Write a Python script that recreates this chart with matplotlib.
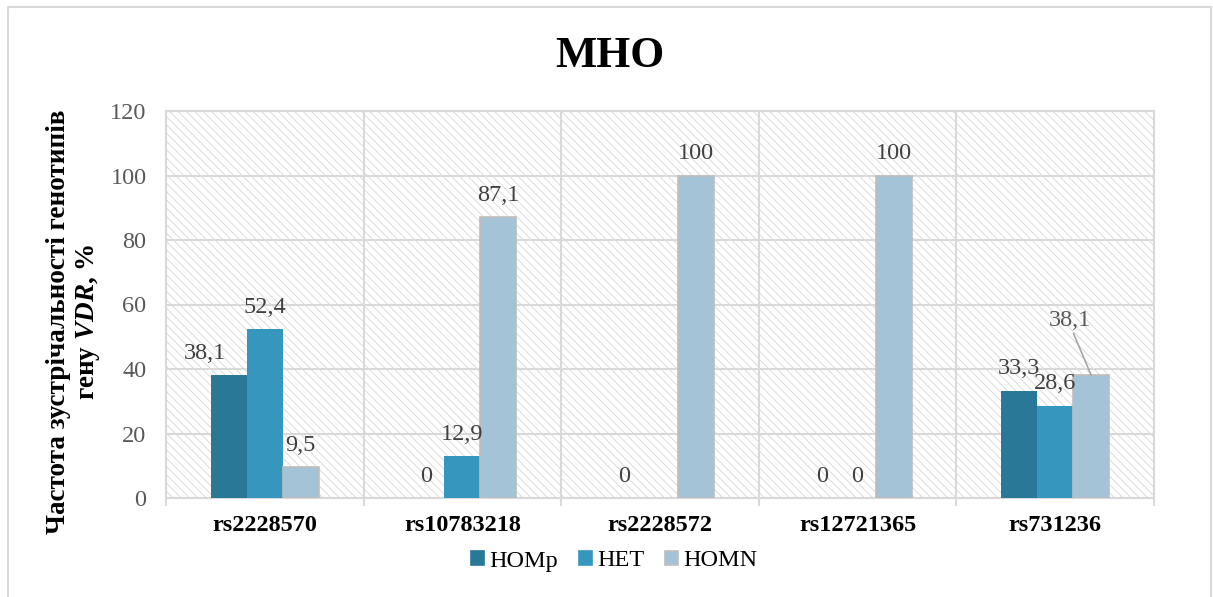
import matplotlib
matplotlib.use("Agg")
import matplotlib.pyplot as plt
from matplotlib.patches import Rectangle
import numpy as np

plt.rcParams["font.family"] = ["Liberation Serif", "DejaVu Serif"]
plt.rcParams["mathtext.fontset"] = "custom"
plt.rcParams["mathtext.it"] = "Liberation Serif:italic:bold"
plt.rcParams["mathtext.rm"] = "Liberation Serif:bold"
plt.rcParams["hatch.color"] = "#d6d6d6"
plt.rcParams["hatch.linewidth"] = 0.6

# Data
snps = ["rs2228570", "rs10783218", "rs2228572", "rs12721365", "rs731236"]
series_names = ["HOMp", "HET", "HOMN"]
homp = [38.1, 0, 0, 0, 33.3]
het = [52.4, 12.9, 0, 0, 28.6]
homn = [9.5, 87.1, 100, 100, 38.1]
y_ticks = [0, 20, 40, 60, 80, 100, 120]

colors = ["#297898", "#3796be", "#a5c3d7"]
edges = ["#297898", "#3796be", "#bdbdbd"]

FS = 17.5
W, H = 1213, 597
fig = plt.figure(figsize=(W / 100, H / 100), dpi=100)
fig.patch.set_facecolor("white")

# outer chart frame
fig.patches.append(Rectangle((8 / W, -0.01), 1203 / W, 1 - 7 / H + 0.01,
                             transform=fig.transFigure, fill=False,
                             edgecolor="#d9d9d9", linewidth=1.5))

ax = fig.add_axes([166 / W, 1 - 498 / H, (1154 - 166) / W, (498 - 111) / H])
ax.patch.set_facecolor("white")
ax.add_patch(Rectangle((0, 0), 1, 1, transform=ax.transAxes, facecolor="none",
                       hatch="\\\\\\\\", edgecolor="#d6d6d6", linewidth=0, zorder=0))

x = np.arange(len(snps))
bw = 0.182
series = [homp, het, homn]
offsets = [-bw, 0, bw]
label_gray = "#404040"
for vals, off, c, ec in zip(series, offsets, colors, edges):
    ax.bar(x + off, vals, width=bw, color=c, edgecolor=ec,
           linewidth=1.2 if ec != c else 0, zorder=3)

# value labels (rs2228572 HET has no label)
labels = {
    (0, 0): (-24, 22), (0, 1): (0, 22), (0, 2): (0, 22),
    (1, 0): (0, 22), (1, 1): (0, 22), (1, 2): (0, 22),
    (2, 0): (0, 22), (2, 2): (0, 22),
    (3, 0): (0, 22), (3, 1): (0, 22), (3, 2): (0, 22),
    (4, 0): (0, 22), (4, 1): (0, 22),
}
for (i, s), (dx, dy) in labels.items():
    v = series[s][i]
    txt = f"{v:g}".replace(".", ",")
    ax.annotate(txt, xy=(x[i] + offsets[s], v), xytext=(dx, dy),
                textcoords="offset pixels", ha="center", va="center",
                fontsize=FS, color=label_gray, zorder=5)

# label with leader line
v = homn[4]
ax.annotate(f"{v:g}".replace(".", ","), xy=(x[4] + offsets[2], v),
            xytext=(-21, 55), textcoords="offset pixels", ha="center",
            va="center", fontsize=FS, color="#595959", zorder=5,
            arrowprops=dict(arrowstyle="-", color="#a6a6a6", lw=1.2,
                            shrinkA=0, shrinkB=0, relpos=(0.55, 0.0)))

ax.set_xlim(-0.5, len(snps) - 0.5)
ax.set_ylim(0, 120)
ax.set_yticks(y_ticks)
ax.set_yticklabels([str(t) for t in y_ticks], fontsize=FS, color="#595959")
ax.set_xticks(x)
ax.set_xticklabels(snps, fontsize=FS, fontweight="bold")
ax.set_xticks(np.arange(-0.5, len(snps)), minor=True)
ax.tick_params(axis="x", which="major", length=0, pad=12)
ax.tick_params(axis="x", which="minor", length=6, color="#d9d9d9", width=1.5)
ax.tick_params(axis="y", length=0, pad=14)

ax.grid(axis="y", which="major", color="#d9d9d9", linewidth=1.5, zorder=1)
ax.grid(axis="x", which="minor", color="#d9d9d9", linewidth=1.5, zorder=1)
ax.set_axisbelow(True)
for sp in ax.spines.values():
    sp.set_color("#d9d9d9")
    sp.set_linewidth(1.5)

# title
fig.text(610 / W, 1 - 67 / H, "МНО", fontsize=31.5, fontweight="bold",
         ha="center", va="baseline")

# y axis title
fig.text(74 / W, 1 - 322 / H,
         "Частота зустрічальності генотипів\nгену $\\mathit{VDR}$, %",
         rotation=90, ha="center", va="center", fontsize=19.5,
         fontweight="bold", linespacing=1.15, multialignment="center")

handles = [Rectangle((0, 0), 1, 1, facecolor=c, edgecolor=ec, linewidth=1.2)
           for c, ec in zip(colors, edges)]
fig.legend(handles, series_names, loc="center", bbox_to_anchor=(614 / W, 1 - 561 / H),
           ncol=3, frameon=False, fontsize=FS, handlelength=0.55, handleheight=0.55,
           handletextpad=0.2, columnspacing=0.85)

fig.savefig("out.png", dpi=100, facecolor="white")
